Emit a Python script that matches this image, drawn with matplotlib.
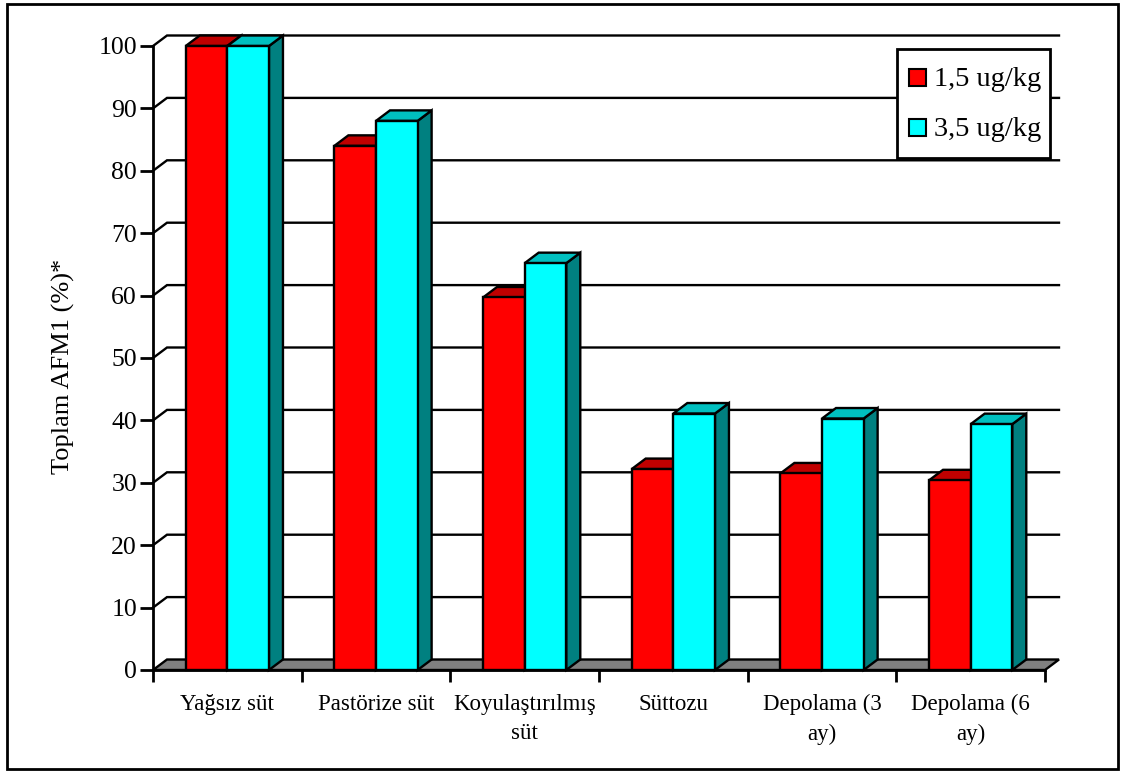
import matplotlib
matplotlib.use("Agg")
import matplotlib.pyplot as plt
from matplotlib.patches import Polygon, Rectangle
import numpy as np

plt.rcParams['font.family'] = ['Liberation Serif', 'DejaVu Serif']

# ---- data ----
categories = ["Yağsız süt", "Pastörize süt", "Koyulaştırılmış\nsüt",
              "Süttozu", "Depolama (3\nay)", "Depolama (6\nay)"]
series_names = ["1,5 ug/kg", "3,5 ug/kg"]
low_dose = [100, 84, 59.7, 32.2, 31.5, 30.4]
high_dose = [100, 88, 65.2, 41.1, 40.3, 39.4]
y_ticks = list(range(0, 101, 10))

# ---- styling ----
W, H = 1122, 773
front_col = ["#FF0000", "#00FFFF"]
top_col = ["#C00000", "#00C0C0"]
side_col = ["#800000", "#008080"]
floor_col = "#808080"
lw = 1.7

fig = plt.figure(figsize=(W / 100, H / 100), dpi=100)
fig.patch.set_facecolor("white")

# outer frame
fig.add_artist(Rectangle((7 / W, 4 / H), 1111 / W, 765 / H, transform=fig.transFigure,
                         fill=False, edgecolor="black", linewidth=2.0))

ax = fig.add_axes([153 / W, (H - 670) / H, 892 / W, 624 / H])
n = len(categories)
ax.set_xlim(0, n)
ax.set_ylim(0, 100)

# depth offset of the pseudo-3D walls and bars (data units)
dx = 14 / (892 / n)
dy = 10.5 / 6.24

# floor
ax.add_patch(Polygon([(0, 0), (n, 0), (n + dx, dy), (dx, dy)], closed=True,
                     facecolor=floor_col, edgecolor="black", linewidth=lw,
                     clip_on=False, zorder=1))

# gridlines: diagonal on side wall + horizontal on back wall
for v in y_ticks[1:]:
    ax.plot([0, dx, n + dx], [v, v + dy, v + dy], color="black", linewidth=lw,
            clip_on=False, zorder=1, solid_joinstyle="miter")

# bars
bw = 0.28
for i in range(n):
    c = i + 0.5
    for k, vals in enumerate([low_dose, high_dose]):
        v = vals[i]
        x0 = c - bw if k == 0 else c
        x1 = x0 + bw
        z = 3 + k
        ax.add_patch(Polygon([(x1, 0), (x1 + dx, dy), (x1 + dx, v + dy), (x1, v)],
                             closed=True, facecolor=side_col[k], edgecolor="black",
                             linewidth=lw, clip_on=False, zorder=z, joinstyle="miter"))
        ax.add_patch(Polygon([(x0, v), (x1, v), (x1 + dx, v + dy), (x0 + dx, v + dy)],
                             closed=True, facecolor=top_col[k], edgecolor="black",
                             linewidth=lw, clip_on=False, zorder=z, joinstyle="miter"))
        ax.bar(x0, v, width=bw, align="edge", color=front_col[k], edgecolor="black",
               linewidth=lw, zorder=z, clip_on=False)

# axes
for s in ["top", "right"]:
    ax.spines[s].set_visible(False)
for s in ["left", "bottom"]:
    ax.spines[s].set_linewidth(2.0)
    ax.spines[s].set_zorder(6)
ax.set_facecolor("none")

ax.set_yticks(y_ticks)
ax.set_yticklabels([str(t) for t in y_ticks], fontsize=18.5)
ax.tick_params(axis="y", direction="out", length=9.5, width=2.0, pad=2)

ax.set_xticks(np.arange(0, n + 1))
ax.set_xticklabels([])
ax.tick_params(axis="x", which="major", direction="out", length=8.5, width=2.0)
ax.set_xticks(np.arange(n) + 0.5, minor=True)
ax.set_xticklabels(categories, minor=True, fontsize=16.5, linespacing=1.55)
ax.tick_params(axis="x", which="minor", length=0, pad=17)

fig.text(63 / W, 1 - 366 / H, "Toplam AFM1 (%)*", rotation=90, fontsize=19,
         ha="center", va="center")

# legend
fig.add_artist(Rectangle((897 / W, 1 - 158 / H), 153 / W, 109 / H,
                         transform=fig.transFigure, facecolor="white",
                         edgecolor="black", linewidth=2.0, zorder=10))
for k, name in enumerate(series_names):
    cy = 77 + 50 * k
    fig.add_artist(Rectangle((909 / W, 1 - (cy + 8.5) / H), 17 / W, 17 / H,
                             transform=fig.transFigure, facecolor=front_col[k],
                             edgecolor="black", linewidth=1.5, zorder=11))
    t = fig.text(934 / W, 1 - cy / H, name, fontsize=20.5, ha="left", va="center_baseline")
    t.set_zorder(12)

fig.savefig("out.png", dpi=100)
